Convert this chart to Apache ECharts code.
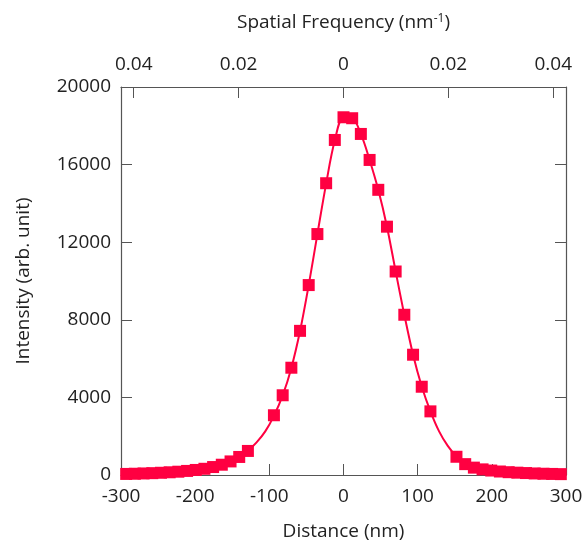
<!DOCTYPE html>
<html>
<head>
<meta charset="utf-8">
<script src="https://cdn.jsdelivr.net/npm/echarts@6/dist/echarts.min.js"></script>
<style>
  html, body { margin: 0; padding: 0; background: #fff; }
  #chart { width: 584px; height: 543px; }
</style>
</head>
<body>
<div id="chart"></div>
<script>
// measured points (nm, intensity)
var pointX = [-293.0, -281.3, -269.6, -257.8, -246.1, -234.4, -222.7, -210.9, -199.2, -187.5,
  -175.8, -164.1, -152.3, -140.6, -128.9, -93.8, -82.0, -70.3, -58.6, -46.9, -35.2, -23.4, -11.7,
  0, 11.7, 23.4, 35.2, 46.9, 58.6, 70.3, 82.0, 93.8, 105.5, 117.2,
  152.3, 164.1, 175.8, 187.5, 199.2, 210.9, 222.7, 234.4, 246.1, 257.8, 269.6, 281.3, 293.0];
var pointY = [55, 65, 80, 95, 115, 140, 170, 210, 260, 320,
  410, 530, 700, 930, 1240, 3080, 4110, 5530, 7430, 9790, 12420, 15040, 17270,
  18440, 18390, 17580, 16240, 14700, 12800, 10490, 8260, 6200, 4550, 3280,
  940, 560, 380, 290, 230, 180, 145, 120, 100, 80, 65, 55, 45];

// fitted curve, gaps included
var fitX = [-293.0, -269.6, -246.1, -222.7, -199.2, -175.8, -152.3, -140.6, -128.9, -117.2, -105.5,
  -93.8, -82.0, -70.3, -58.6, -46.9, -35.2, -23.4, -11.7, 0, 11.7, 23.4, 35.2, 46.9, 58.6,
  70.3, 82.0, 93.8, 105.5, 117.2, 128.9, 140.6, 152.3, 164.1, 175.8, 199.2, 222.7, 246.1, 269.6, 293.0];
var fitY = [50, 75, 110, 165, 250, 390, 680, 930, 1250, 1680, 2250,
  3050, 4100, 5520, 7420, 9790, 12420, 15020, 17250, 18420, 18380, 17580, 16240, 14700, 12800,
  10500, 8260, 6200, 4560, 3280, 2250, 1500, 960, 600, 400, 230, 145, 100, 65, 45];

var freqTicks = [-0.04, -0.02, 0, 0.02, 0.04];
var freqMax = 0.0424264;

var red = '#ff0041';
var axisColor = '#555555';
var textColor = '#222222';
var font = '"Open Sans", "Noto Sans", sans-serif';

var chart = echarts.init(document.getElementById('chart'));

function pairs(xs, ys) {
  return xs.map(function (x, i) { return [x, ys[i]]; });
}

var option = {
  animation: false,
  grid: { left: 121, right: 18, top: 87, bottom: 68, outerBoundsMode: 'none', containLabel: false },
  xAxis: [{
    type: 'value',
    position: 'bottom',
    min: -300, max: 300, interval: 100,
    name: 'Distance (nm)',
    nameLocation: 'middle',
    nameGap: 47,
    nameTextStyle: { fontFamily: font, fontSize: 19, color: textColor },
    axisLine: { onZero: false, lineStyle: { color: axisColor, width: 1.2 } },
    axisTick: { inside: true, length: 11, lineStyle: { color: axisColor } },
    axisLabel: { margin: 12, fontFamily: font, fontSize: 19, color: textColor,
      formatter: function (v) { return String(v); } },
    splitLine: { show: false }
  }, {
    type: 'value',
    position: 'top',
    min: -freqMax, max: freqMax,
    name: '{a|Spatial Frequency (nm}{s|-1}{a|)}',
    nameLocation: 'middle',
    nameGap: 54,
    nameTextStyle: {
      rich: {
        a: { fontFamily: font, fontSize: 19, color: textColor },
        s: { fontFamily: font, fontSize: 12, color: textColor, verticalAlign: 'top', padding: [0, 0, 8, 0] }
      }
    },
    axisLine: { onZero: false, lineStyle: { color: axisColor, width: 1.2 } },
    axisTick: { inside: true, length: 11, customValues: freqTicks, lineStyle: { color: axisColor } },
    axisLabel: {
      margin: 13, fontFamily: font, fontSize: 19, color: textColor,
      customValues: freqTicks,
      formatter: function (v) { return String(Math.abs(Math.round(v * 100) / 100)); }
    },
    splitLine: { show: false }
  }],
  yAxis: [{
    type: 'value',
    position: 'left',
    min: 0, max: 20000, interval: 4000,
    name: 'Intensity (arb. unit)',
    nameLocation: 'middle',
    nameGap: 88,
    nameTextStyle: { fontFamily: font, fontSize: 19, color: textColor },
    axisLine: { show: true, onZero: false, lineStyle: { color: axisColor, width: 1.2 } },
    axisTick: { show: true, inside: true, length: 11, lineStyle: { color: axisColor } },
    axisLabel: { margin: 10, fontFamily: font, fontSize: 19, color: textColor,
      formatter: function (v) { return String(v); } },
    splitLine: { show: false }
  }, {
    type: 'value',
    position: 'right',
    min: 0, max: 20000, interval: 4000,
    axisLine: { show: true, onZero: false, lineStyle: { color: axisColor, width: 1.2 } },
    axisTick: { show: true, inside: true, length: 11, lineStyle: { color: axisColor } },
    axisLabel: { show: false },
    splitLine: { show: false }
  }],
  series: [{
    name: 'fit',
    type: 'line',
    smooth: 0.35,
    showSymbol: false,
    data: pairs(fitX, fitY),
    lineStyle: { color: red, width: 2 },
    z: 2
  }, {
    name: 'data',
    type: 'scatter',
    symbol: 'rect',
    symbolSize: 12,
    data: pairs(pointX, pointY),
    itemStyle: { color: red, opacity: 1 },
    z: 3
  }]
};

chart.setOption(option);
</script>
</body>
</html>
